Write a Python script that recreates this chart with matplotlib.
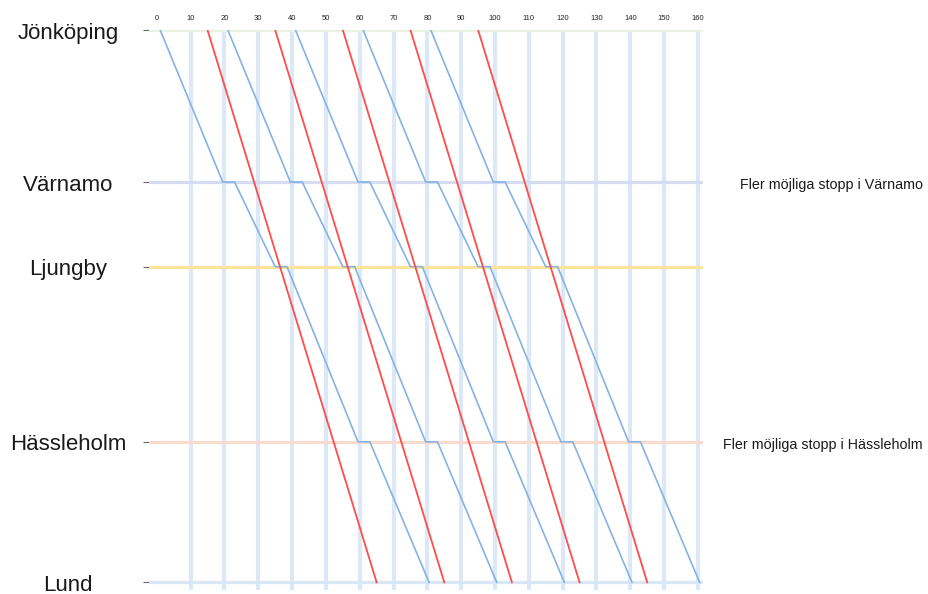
import matplotlib
matplotlib.use("Agg")
import matplotlib.pyplot as plt
from matplotlib.transforms import blended_transform_factory, ScaledTranslation

plt.rcParams["font.family"] = ["Liberation Sans", "DejaVu Sans"]

# stations, position along the line (km from Jönköping)
stations = ["Jönköping", "Värnamo", "Ljungby", "Hässleholm", "Lund"]
station_km = [0, 79, 123, 214, 287]
station_colors = ["#eaf3e2", "#d6ddf3", "#fce59a", "#fbdccc", "#d9e6f5"]

# minutes on the time axis
time_ticks = list(range(0, 170, 10))

# regional train (blue): stops everywhere, offsets from departure
blue_departures = [1, 21, 41, 61, 81]
blue_offsets = [0, 18.5, 22, 34, 37.5, 58.5, 62, 79.5]
blue_km = [0, 79, 79, 123, 123, 214, 214, 287]

# express train (red): nonstop Jönköping - Lund
red_departures = [15, 35, 55, 75, 95]
red_offsets = [0, 50]
red_km = [0, 287]

notes = ["Fler möjliga stopp i Värnamo", "Fler möjliga stopp i Hässleholm"]
note_km = [79, 214]

fig = plt.figure(figsize=(9.29, 5.94), dpi=100)
ax = fig.add_axes([149 / 929, 1 - 590 / 594, (703 - 149) / 929, (590 - 30) / 594])
ax.set_xlim(-2.3, 161.5)
ax.set_ylim(291, 0)

for t in time_ticks[1:]:
    ax.axvline(t, color="#dce8f6", lw=3, zorder=1)
for km, c in zip(station_km, station_colors):
    ax.axhline(km, color=c, lw=2.3, zorder=2)

for d in blue_departures:
    ax.plot([d + o for o in blue_offsets], blue_km, color="#85b3e3", lw=1.2, zorder=3)
for d in red_departures:
    ax.plot([d + o for o in red_offsets], red_km, color="#ff4c4c", lw=1.3, zorder=4)

for s in ax.spines.values():
    s.set_visible(False)

ax.xaxis.tick_top()
ax.set_xticks(time_ticks)
ax.set_xticklabels([str(t) for t in time_ticks])
ax.tick_params(axis="x", length=0, pad=6, labelsize=5.5, colors="#222222")

ax.set_yticks(station_km)
ax.set_yticklabels([])
ax.tick_params(axis="y", length=4.5, width=0.8, color="#666666", direction="out")

down = ScaledTranslation(0, -3 / 100, fig.dpi_scale_trans)
trans = blended_transform_factory(fig.transFigure, ax.transData) + down
for name, km in zip(stations, station_km):
    ax.text(68 / 929, km, name, transform=trans, ha="center", va="center",
            fontsize=16, color="#1a1a1a", clip_on=False)

for note, km in zip(notes, note_km):
    ax.text(923 / 929, km, note, transform=trans, ha="right", va="center",
            fontsize=10.3, color="#1a1a1a", clip_on=False)

fig.savefig("out.png", dpi=100)
